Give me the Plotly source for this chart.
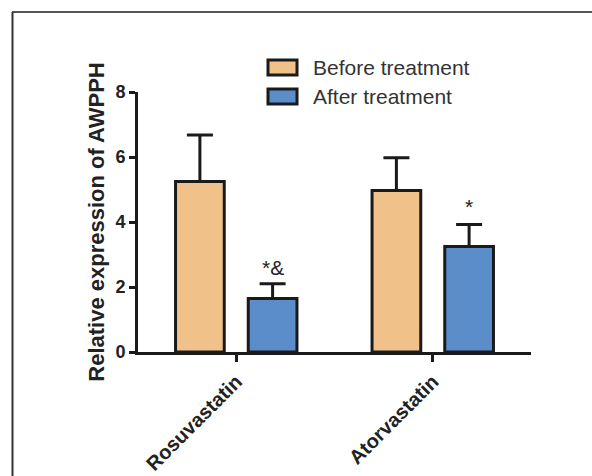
import plotly.graph_objects as go

categories = ["Rosuvastatin", "Atorvastatin"]
before_vals = [5.25, 4.97]
before_err = [1.43, 1.01]
after_vals = [1.65, 3.25]
after_err = [0.45, 0.67]
after_marks = ["*&", "*"]
mark_heights = [2.2, 4.05]
series_names = ["Before treatment", "After treatment"]
colors = ["#F0C28A", "#5A8DCA"]
y_ticks = [0, 2, 4, 6, 8]

BARGAP = 0.26
BARGROUPGAP = 0.33
FONT = "Liberation Sans, Arial, sans-serif"

W, H = 592, 476
PL, PR, PT, PB = 138, 531, 92, 352


def px(xp):
    return (xp - PL) / (PR - PL)


def py(yp):
    return (PB - yp) / (PB - PT)


fig = go.Figure()
for name, vals, err, col in [
    (series_names[0], before_vals, before_err, colors[0]),
    (series_names[1], after_vals, after_err, colors[1]),
]:
    fig.add_trace(go.Bar(
        x=categories, y=vals, name=name,
        marker=dict(color=col, line=dict(color="#1a1a1a", width=3)),
        error_y=dict(type="data", symmetric=False, array=err,
                     arrayminus=[0] * len(err), color="#1a1a1a",
                     thickness=3, width=13),
        showlegend=False,
    ))

slot = (1 - BARGAP) / 2
for i, (m, h) in enumerate(zip(after_marks, mark_heights)):
    fig.add_annotation(x=i + slot / 2, y=h, text=m, showarrow=False,
                       xref="x", yref="y", yanchor="bottom",
                       font=dict(family=FONT, size=21, color="#222"))

# manual legend
for j, (name, col) in enumerate(zip(series_names, colors)):
    top = 60 + j * 29
    fig.add_shape(type="rect", xref="paper", yref="paper",
                  x0=px(268), x1=px(297), y0=py(top + 15), y1=py(top),
                  fillcolor=col, line=dict(color="#1a1a1a", width=3))
    fig.add_annotation(xref="paper", yref="paper",
                       x=px(311), y=py(top + 7.5),
                       text=name, showarrow=False, xanchor="left",
                       yanchor="middle",
                       font=dict(family=FONT, size=21, color="#333"))

# outer frame
fig.add_shape(type="line", xref="paper", yref="paper",
              x0=px(12), x1=px(600), y0=py(12), y1=py(12),
              line=dict(color="#555", width=2))
fig.add_shape(type="line", xref="paper", yref="paper",
              x0=px(12.5), x1=px(12.5), y0=py(12), y1=py(490),
              line=dict(color="#333", width=2))

fig.update_layout(
    width=W, height=H,
    margin=dict(l=PL, r=W - PR, t=PT, b=H - PB, autoexpand=False),
    paper_bgcolor="white", plot_bgcolor="white",
    barmode="group", bargap=BARGAP, bargroupgap=BARGROUPGAP,
    font=dict(family=FONT, color="#222"),
    hovermode=False,
    xaxis=dict(range=[-0.5, 1.5], showline=True, linecolor="#1a1a1a",
               linewidth=3, ticks="outside", ticklen=7, tickwidth=2.5,
               tickcolor="#1a1a1a", tickangle=-45,
               tickfont=dict(family=FONT, size=20, color="#222",
                             weight="bold"),
               showgrid=False, zeroline=False, automargin=False),
    yaxis=dict(range=[0, 8], tickvals=y_ticks, showline=True,
               linecolor="#1a1a1a", linewidth=3, ticks="outside", ticklen=6,
               tickwidth=2.5, tickcolor="#1a1a1a",
               tickfont=dict(family=FONT, size=18, color="#222",
                             weight="bold"),
               title=dict(text="Relative expression of AWPPH", standoff=5,
                          font=dict(family=FONT, size=22, color="#222",
                                    weight="bold")),
               showgrid=False, zeroline=False, automargin=False),
)

fig.write_html(
    "out.html",
    config={"displayModeBar": False},
    post_script="document.body.style.margin='0';"
                "document.body.style.overflow='hidden';",
)
